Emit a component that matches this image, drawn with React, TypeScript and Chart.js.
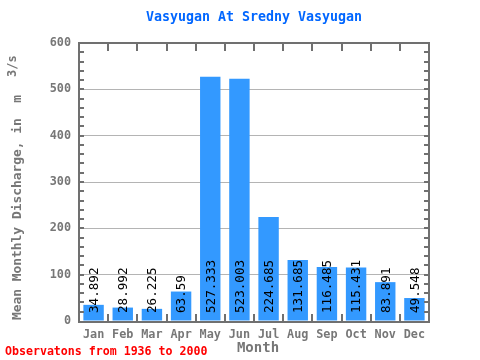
import React, { useEffect, useRef } from "react";
import { Chart, registerables } from "chart.js";

Chart.register(...registerables);

const months = ["Jan", "Feb", "Mar", "Apr", "May", "Jun", "Jul", "Aug", "Sep", "Oct", "Nov", "Dec"];
const discharge = [34.892, 28.992, 26.225, 63.59, 527.333, 523.003, 224.685, 131.685, 116.485, 115.431, 83.891, 49.548];
const valueLabels = ["34.892", "28.992", "26.225", "63.59", "527.333", "523.003", "224.685", "131.685", "116.485", "115.431", "83.891", "49.548"];
const titleText = "Vasyugan At Sredny Vasyugan";
const yTitleMain = "Mean Monthly Discharge, in  m";
const yTitleSup = "3/s";
const xTitleText = "Month";
const footerText = "Observatons from 1936 to 2000";

const MONO = "'DejaVu Sans Mono', 'Liberation Mono', monospace";
const AXIS = "#707070";
const TEXTGRAY = "#777777";

const decorPlugin = {
  id: "decor",
  afterDraw(chart: any) {
    const ctx = chart.ctx as CanvasRenderingContext2D;
    const ca = chart.chartArea;
    const y = chart.scales.y;
    ctx.save();

    // value labels
    const meta = chart.getDatasetMeta(0);
    ctx.fillStyle = "#000000";
    ctx.font = `12.6px ${MONO}`;
    ctx.textAlign = "left";
    ctx.textBaseline = "middle";
    meta.data.forEach((bar: any, i: number) => {
      ctx.save();
      ctx.translate(bar.x, y.getPixelForValue(0) - 8);
      ctx.rotate(-Math.PI / 2);
      ctx.fillText(valueLabels[i], 0, 1);
      ctx.restore();
    });

    // frame
    ctx.strokeStyle = AXIS;
    ctx.lineWidth = 2;
    ctx.beginPath();
    ctx.rect(ca.left, ca.top, ca.right - ca.left, ca.bottom + 1 - ca.top);
    ctx.stroke();

    // minor ticks left/right every 20
    ctx.beginPath();
    for (let v = 20; v < 600; v += 20) {
      const py = Math.round(y.getPixelForValue(v));
      ctx.moveTo(ca.left, py);
      ctx.lineTo(ca.left + 5, py);
      ctx.moveTo(ca.right, py);
      ctx.lineTo(ca.right - 5, py);
    }
    // category ticks top/bottom
    const n = months.length;
    const w = (ca.right - ca.left) / n;
    for (let i = 1; i < n; i++) {
      const px = Math.round(ca.left + i * w);
      ctx.moveTo(px, ca.top);
      ctx.lineTo(px, ca.top + 8);
      ctx.moveTo(px, ca.bottom + 1);
      ctx.lineTo(px, ca.bottom - 7);
    }
    ctx.stroke();

    // title
    ctx.fillStyle = "#0066ff";
    ctx.font = `bold 13.3px ${MONO}`;
    ctx.textAlign = "center";
    ctx.textBaseline = "middle";
    ctx.fillText(titleText, (ca.left + ca.right) / 2, 18);

    // x title
    ctx.fillStyle = TEXTGRAY;
    ctx.font = `bold 14px ${MONO}`;
    ctx.fillText(xTitleText, (ca.left + ca.right) / 2 + 4, 348);

    // footer
    ctx.fillStyle = "#ff0000";
    ctx.font = `bold 11.6px ${MONO}`;
    ctx.textAlign = "left";
    ctx.fillText(footerText, 5, 352);

    // y title
    ctx.save();
    ctx.translate(18, 320);
    ctx.rotate(-Math.PI / 2);
    ctx.fillStyle = TEXTGRAY;
    ctx.font = `bold 12.9px ${MONO}`;
    ctx.textAlign = "left";
    ctx.textBaseline = "middle";
    ctx.fillText(yTitleMain, 0, 0);
    const mw = ctx.measureText(yTitleMain).width;
    ctx.font = `bold 12px ${MONO}`;
    ctx.fillText(yTitleSup, mw + 18, -5);
    ctx.restore();

    ctx.restore();
  },
};

export default function App() {
  const canvasRef = useRef<HTMLCanvasElement | null>(null);

  useEffect(() => {
    if (!canvasRef.current) return;
    const chart = new Chart(canvasRef.current, {
      type: "bar",
      data: {
        labels: months,
        datasets: [
          {
            data: discharge,
            backgroundColor: "#3399ff",
            borderWidth: 0,
            barPercentage: 0.7,
            categoryPercentage: 1.0,
          },
        ],
      },
      options: {
        animation: false,
        responsive: true,
        maintainAspectRatio: false,
        layout: { padding: { top: 43, right: 51, left: 0, bottom: 0 } },
        plugins: {
          legend: { display: false },
          title: { display: false },
          tooltip: { enabled: false },
        },
        scales: {
          x: {
            grid: { display: false, drawTicks: false },
            border: { display: false },
            ticks: {
              color: TEXTGRAY,
              font: { family: MONO, size: 11.8, weight: "bold" },
              padding: 7,
              maxRotation: 0,
              autoSkip: false,
            },
            afterFit: (scale: any) => {
              scale.height = 39;
            },
          },
          y: {
            min: 0,
            max: 600,
            z: 1,
            grid: { color: "#b4b4b4", lineWidth: 1, drawTicks: false },
            border: { display: false },
            ticks: {
              stepSize: 100,
              color: TEXTGRAY,
              font: { family: MONO, size: 11.8, weight: "bold" },
              padding: 8,
            },
            afterFit: (scale: any) => {
              scale.width = 79;
            },
          },
        },
      },
      plugins: [decorPlugin],
    });
    return () => chart.destroy();
  }, []);

  return (
    <div style={{ position: "fixed", left: 0, top: 0, width: 480, height: 360, background: "#ffffff" }}>
      <canvas ref={canvasRef} />
    </div>
  );
}
